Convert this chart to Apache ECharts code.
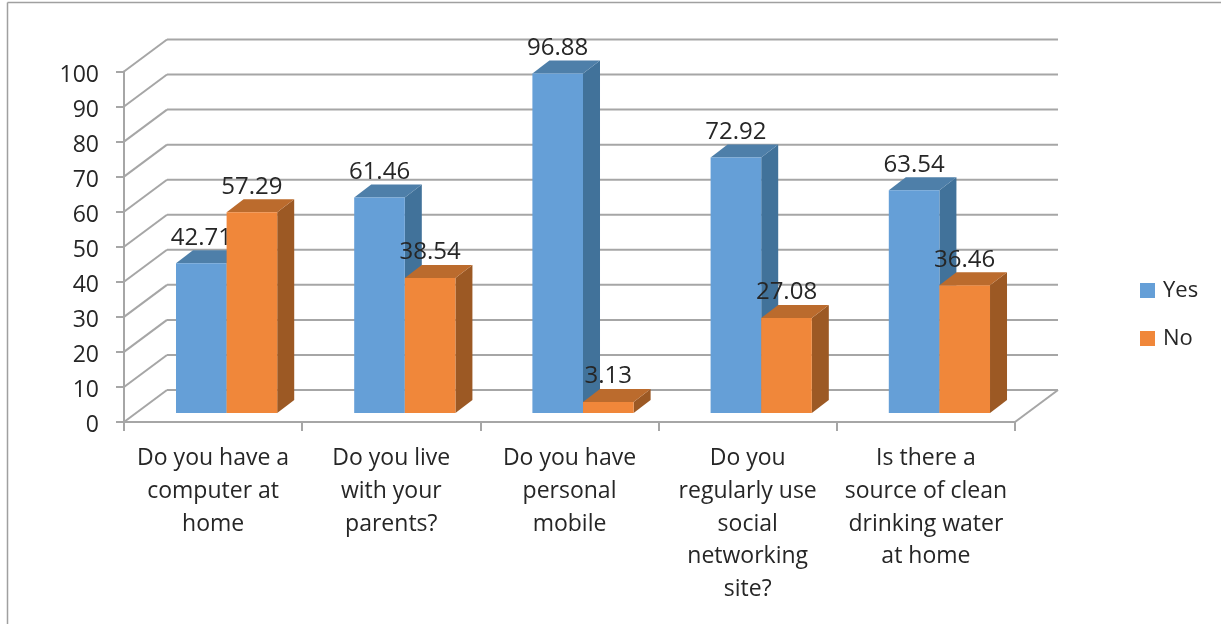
<!DOCTYPE html>
<html><head><meta charset="utf-8">
<style>html,body{margin:0;padding:0;background:#fff}#c{width:1221px;height:624px}</style>
<script src="https://cdn.jsdelivr.net/npm/echarts@6/dist/echarts.min.js"></script>
</head><body><div id="c"></div>
<script>
const categories = [
  "Do you have a\ncomputer at\nhome",
  "Do you live\nwith your\nparents?",
  "Do you have\npersonal\nmobile",
  "Do you\nregularly use\nsocial\nnetworking\nsite?",
  "Is there a\nsource of clean\ndrinking water\nat home"
];
const yesValues = [42.71, 61.46, 96.88, 72.92, 63.54];
const noValues = [57.29, 38.54, 3.13, 27.08, 36.46];
const yTicks = [0,10,20,30,40,50,60,70,80,90,100];

const FONT = '"Open Sans"';
const TEXT = '#262626', LINE = '#A6A6A6';
const WALL_DX = 43, WALL_DY = 32;      // depth of the chart box
const BAR_DX = 17, BAR_DY = 13;        // depth of each bar
const BASE_LIFT = 9;                   // bars stand inside the floor

function barRender(slot, front, top, side) {
  return function (params, api) {
    const cat = api.value(0), v = api.value(1);
    const band = api.size([1, 0])[0];
    const w = band * 0.284;
    const c = api.coord([cat, 0]);
    const t = api.coord([cat, v]);
    const x0 = c[0] + band * 0.0758 + (slot - 1) * w;
    const x1 = x0 + w;
    const yb = c[1] - BASE_LIFT, yt = t[1] - BASE_LIFT;
    const d = BAR_DX, e = BAR_DY;
    return { type: 'group', children: [
      { type: 'polygon', shape: { points: [[x1,yb],[x1+d,yb-e],[x1+d,yt-e],[x1,yt]] }, style: { fill: side } },
      { type: 'polygon', shape: { points: [[x0,yt],[x1,yt],[x1+d,yt-e],[x0+d,yt-e]] }, style: { fill: top } },
      { type: 'rect', shape: { x: x0, y: yt, width: w, height: yb - yt }, style: { fill: front } },
      { type: 'text', z2: 100, style: {
          x: (x0 + x1) / 2 , y: yt - e - 12.5, text: v.toFixed(2),
          font: '24px ' + FONT, fill: TEXT, textAlign: 'center', textVerticalAlign: 'middle' } }
    ] };
  };
}

function wallRender(params, api) {
  const band = api.size([1, 0])[0];
  const a = api.coord([0, api.value(0)]);
  const L = a[0] - band / 2, R = L + band * categories.length, y = a[1];
  const st = { stroke: LINE, lineWidth: 2, fill: 'none' };
  const children = [
    { type: 'line', shape: { x1: L, y1: y, x2: L + WALL_DX, y2: y - WALL_DY }, style: st },
    { type: 'line', shape: { x1: L + WALL_DX, y1: y - WALL_DY, x2: R + WALL_DX, y2: y - WALL_DY }, style: st }
  ];
  if (api.value(0) === 0) {
    children.push({ type: 'line', shape: { x1: R, y1: y, x2: R + WALL_DX, y2: y - WALL_DY }, style: st });
  }
  return { type: 'group', children };
}

const chart = echarts.init(document.getElementById('c'), null, { renderer: 'canvas' });
chart.setOption({
  animation: false,
  backgroundColor: '#fff',
  textStyle: { fontFamily: FONT },
  grid: { left: 124, top: 71.5, width: 891, height: 350.5, containLabel: false },
  legend: {
    data: ['Yes', 'No'], orient: 'vertical', left: 1140, top: 279.5, padding: 0,
    itemWidth: 15, itemHeight: 15, itemGap: 26,
    icon: 'rect',
    textStyle: { fontFamily: FONT, fontSize: 22, lineHeight: 15, color: TEXT, padding: [0,0,0,3] }
  },
  xAxis: {
    type: 'category', data: categories, boundaryGap: true,
    axisLine: { lineStyle: { color: LINE, width: 2 } },
    axisTick: { show: true, alignWithLabel: false, length: 9, lineStyle: { color: LINE, width: 2 } },
    axisLabel: { interval: 0, fontSize: 23, lineHeight: 32.6, color: TEXT, margin: 20.5, fontFamily: FONT },
    splitLine: { show: false }
  },
  yAxis: {
    type: 'value', min: 0, max: 100, interval: 10,
    axisLine: { show: true, lineStyle: { color: LINE, width: 2 } },
    axisTick: { show: true, length: 8, lineStyle: { color: LINE, width: 2 } },
    axisLabel: { fontSize: 23, verticalAlign: 'top', lineHeight: 7, color: TEXT, margin: 25, fontFamily: FONT,
                 showMinLabel: true, showMaxLabel: true, hideOverlap: false },
    splitLine: { show: false }
  },
  series: [
    { type: 'custom', name: 'wall', coordinateSystem: 'cartesian2d', z: 1, clip: false, silent: true,
      renderItem: wallRender, encode: { y: 0 }, data: yTicks.map(t => [t]) },
    { type: 'custom', name: 'Yes', coordinateSystem: 'cartesian2d', z: 3, clip: false,
      itemStyle: { color: '#659FD7' },
      renderItem: barRender(0, '#659FD7', '#4E7FA9', '#41729A'),
      encode: { x: 0, y: 1 }, data: yesValues.map((v, i) => [i, v]) },
    { type: 'custom', name: 'No', coordinateSystem: 'cartesian2d', z: 4, clip: false,
      itemStyle: { color: '#F0873A' },
      renderItem: barRender(1, '#F0873A', '#BB6B2D', '#9C5924'),
      encode: { x: 0, y: 1 }, data: noValues.map((v, i) => [i, v]) }
  ],
  graphic: [
    { type: 'line', silent: true, shape: { x1: 7.5, y1: 2.5, x2: 1221, y2: 2.5 }, style: { stroke: '#A0A0A0', lineWidth: 1.5 } },
    { type: 'line', silent: true, shape: { x1: 7.5, y1: 2.5, x2: 7.5, y2: 624 }, style: { stroke: '#A0A0A0', lineWidth: 1.5 } }
  ]
});
</script></body></html>
